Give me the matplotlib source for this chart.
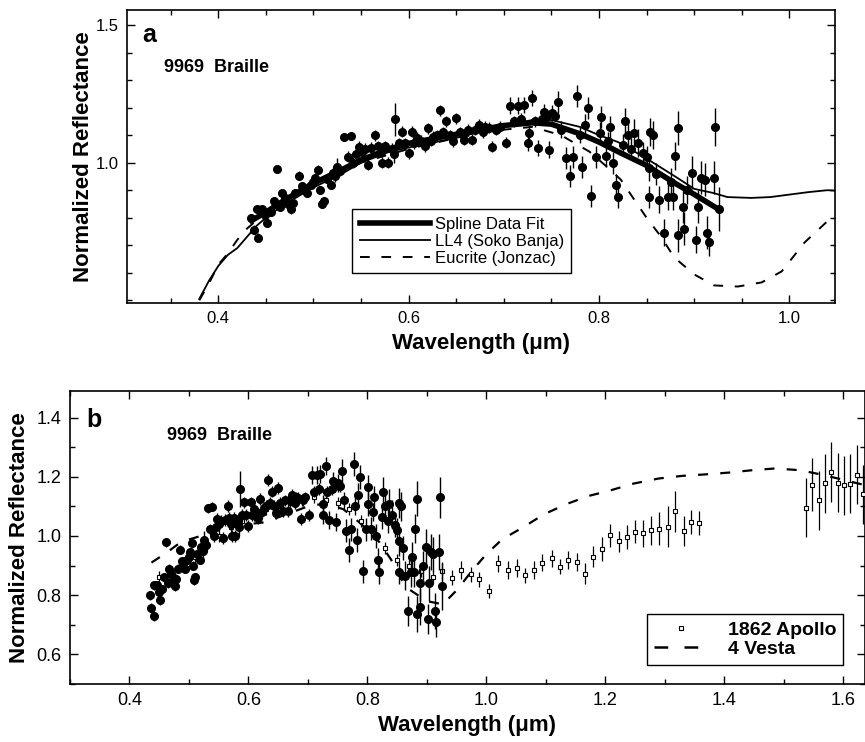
import matplotlib
matplotlib.use("Agg")
import matplotlib.pyplot as plt
from matplotlib.ticker import MultipleLocator
from matplotlib.lines import Line2D

plt.rcParams['font.family'] = ['Liberation Sans', 'DejaVu Sans']

# 9969 Braille reflectance data (wavelength um, reflectance, 1-sigma)
braille_wl = [0.434, 0.437, 0.441, 0.442, 0.446, 0.449, 0.451, 0.455, 0.458, 0.462,
              0.465, 0.467, 0.470, 0.473, 0.476, 0.478, 0.481, 0.485, 0.488, 0.490,
              0.493, 0.497, 0.500, 0.502, 0.505, 0.507, 0.509, 0.511, 0.514, 0.518,
              0.520, 0.523, 0.525, 0.528, 0.532, 0.536, 0.539, 0.542, 0.545, 0.548,
              0.551, 0.554, 0.557, 0.560, 0.565, 0.568, 0.571, 0.572, 0.575, 0.578,
              0.582, 0.585, 0.586, 0.590, 0.593, 0.596, 0.600, 0.604, 0.606, 0.609,
              0.613, 0.617, 0.620, 0.623, 0.626, 0.630, 0.633, 0.636, 0.639, 0.643,
              0.647, 0.650, 0.654, 0.658, 0.662, 0.667, 0.670, 0.674, 0.678, 0.680,
              0.684, 0.688, 0.692, 0.696, 0.702, 0.707, 0.711, 0.715, 0.718, 0.721,
              0.725, 0.726, 0.730, 0.733, 0.736, 0.740, 0.742, 0.745, 0.747, 0.751,
              0.754, 0.757, 0.760, 0.765, 0.770, 0.773, 0.777, 0.780, 0.782, 0.785,
              0.788, 0.792, 0.797, 0.801, 0.802, 0.807, 0.810, 0.812, 0.815, 0.818,
              0.820, 0.825, 0.827, 0.830, 0.834, 0.837, 0.841, 0.846, 0.850, 0.853,
              0.853, 0.854, 0.857, 0.860, 0.863, 0.868, 0.873, 0.876, 0.878, 0.880,
              0.883, 0.883, 0.888, 0.889, 0.893, 0.898, 0.902, 0.904, 0.907, 0.911,
              0.914, 0.916, 0.921, 0.922, 0.926]
braille_refl = [0.800, 0.757, 0.833, 0.728, 0.833, 0.810, 0.782, 0.820, 0.860, 0.978,
                0.840, 0.890, 0.870, 0.850, 0.830, 0.855, 0.890, 0.953, 0.915, 0.900,
                0.890, 0.920, 0.930, 0.945, 0.975, 0.900, 0.850, 0.860, 0.940, 0.920,
                0.963, 0.950, 0.986, 0.970, 1.094, 1.022, 1.098, 1.000, 1.030, 1.058,
                1.040, 1.050, 0.993, 1.055, 1.100, 1.060, 1.040, 1.000, 1.060, 1.000,
                1.050, 1.030, 1.158, 1.070, 1.113, 1.070, 1.035, 1.113, 1.070, 1.090,
                1.080, 1.060, 1.126, 1.080, 1.095, 1.100, 1.190, 1.110, 1.150, 1.100,
                1.077, 1.162, 1.110, 1.083, 1.120, 1.083, 1.120, 1.138, 1.110, 1.130,
                1.127, 1.058, 1.120, 1.130, 1.072, 1.207, 1.150, 1.207, 1.160, 1.210,
                1.072, 1.108, 1.235, 1.150, 1.054, 1.160, 1.185, 1.170, 1.047, 1.180,
                1.170, 1.220, 1.120, 1.018, 0.953, 1.022, 1.243, 1.100, 0.986, 1.138,
                1.200, 0.880, 1.022, 1.108, 1.166, 1.025, 1.080, 1.130, 1.000, 0.920,
                0.877, 1.065, 1.150, 1.100, 1.050, 1.108, 1.072, 1.036, 1.020, 0.982,
                0.877, 1.112, 1.100, 0.960, 0.866, 0.746, 0.877, 0.930, 0.877, 1.025,
                1.126, 0.736, 0.840, 0.760, 0.900, 0.963, 0.720, 0.840, 0.945, 0.938,
                0.746, 0.710, 0.946, 1.130, 0.830]
braille_err = [0.015] * 30 + [0.02, 0.02, 0.03, 0.02, 0.015, 0.02, 0.015, 0.02, 0.02, 0.02,
               0.02, 0.02, 0.02, 0.02, 0.02, 0.02, 0.02, 0.02, 0.02, 0.02,
               0.02, 0.03, 0.06, 0.02, 0.02, 0.02, 0.02, 0.02, 0.02, 0.02,
               0.02, 0.02, 0.02, 0.02, 0.02, 0.02, 0.02, 0.02, 0.02, 0.02,
               0.02, 0.02, 0.02, 0.02, 0.02, 0.02, 0.02, 0.02, 0.02, 0.02,
               0.02, 0.02, 0.02, 0.02, 0.02, 0.03, 0.02, 0.03, 0.02, 0.03,
               0.03, 0.03, 0.03, 0.02, 0.03, 0.02, 0.03, 0.02, 0.03, 0.03,
               0.02, 0.04, 0.03, 0.04, 0.04, 0.04, 0.04, 0.03, 0.04, 0.04,
               0.04, 0.04, 0.04, 0.04, 0.04, 0.04, 0.03, 0.04, 0.04, 0.04,
               0.04, 0.04, 0.05, 0.05, 0.04, 0.05, 0.05, 0.04, 0.04, 0.05,
               0.04, 0.05, 0.05, 0.04, 0.05, 0.05, 0.05, 0.05, 0.05, 0.05,
               0.06, 0.06, 0.06, 0.06, 0.05, 0.06, 0.05, 0.06, 0.06, 0.06,
               0.06, 0.05, 0.06, 0.07, 0.08]

# spline fit to Braille data
spline_wl = [0.435, 0.45, 0.47, 0.50, 0.53, 0.55, 0.58, 0.60, 0.63, 0.66,
             0.70, 0.73, 0.75, 0.78, 0.80, 0.82, 0.85, 0.88, 0.90, 0.926]
spline_refl = [0.79, 0.82, 0.865, 0.925, 0.975, 1.01, 1.05, 1.07, 1.09, 1.11,
               1.135, 1.145, 1.14, 1.105, 1.075, 1.04, 0.99, 0.925, 0.885, 0.83]

# LL4 ordinary chondrite (Soko Banja)
ll4_wl = [0.38, 0.39, 0.40, 0.41, 0.42, 0.43, 0.44, 0.45, 0.47, 0.50,
          0.53, 0.55, 0.58, 0.60, 0.65, 0.70, 0.73, 0.75, 0.78, 0.80,
          0.82, 0.85, 0.88, 0.90, 0.92, 0.935, 0.96, 0.98, 1.00, 1.02,
          1.04, 1.05]
ll4_refl = [0.505, 0.57, 0.625, 0.665, 0.69, 0.73, 0.77, 0.80, 0.85, 0.91,
            0.96, 1.00, 1.04, 1.055, 1.09, 1.135, 1.155, 1.155, 1.13, 1.10,
            1.075, 1.015, 0.95, 0.905, 0.89, 0.875, 0.872, 0.875, 0.884, 0.893,
            0.90, 0.898]

# Eucrite (Jonzac)
euc_wl = [0.38, 0.39, 0.40, 0.41, 0.42, 0.43, 0.45, 0.47, 0.50, 0.55,
          0.60, 0.65, 0.70, 0.73, 0.76, 0.79, 0.81, 0.823, 0.837, 0.85,
          0.865, 0.879, 0.90, 0.921, 0.946, 0.971, 0.992, 1.016, 1.044, 1.05]
euc_refl = [0.50, 0.56, 0.63, 0.67, 0.72, 0.76, 0.82, 0.86, 0.92, 1.00,
            1.05, 1.09, 1.12, 1.13, 1.10, 1.04, 0.98, 0.938, 0.866, 0.80,
            0.732, 0.656, 0.594, 0.554, 0.55, 0.565, 0.605, 0.71, 0.80, 0.81]

# 1862 Apollo
apollo_wl = [0.45, 0.47, 0.49, 0.51, 0.53, 0.55, 0.57, 0.59, 0.61, 0.63,
             0.65, 0.67, 0.69, 0.71, 0.73, 0.75, 0.77, 0.79, 0.81, 0.83,
             0.85, 0.87, 0.89, 0.91, 0.925, 0.942, 0.957, 0.974, 0.988, 1.005,
             1.02, 1.036, 1.051, 1.065, 1.08, 1.094, 1.11, 1.124, 1.138, 1.152,
             1.166, 1.18, 1.195, 1.209, 1.223, 1.237, 1.251, 1.264, 1.277, 1.291,
             1.305, 1.318, 1.332, 1.345, 1.357, 1.538, 1.548, 1.559, 1.57, 1.58,
             1.591, 1.601, 1.612, 1.623, 1.634]
apollo_refl = [0.86, 0.88, 0.90, 0.93, 0.97, 1.00, 1.03, 1.05, 1.07, 1.09,
               1.10, 1.11, 1.12, 1.13, 1.12, 1.11, 1.09, 1.05, 1.01, 0.96,
               0.92, 0.90, 0.88, 0.86, 0.881, 0.859, 0.885, 0.87, 0.853, 0.814,
               0.907, 0.885, 0.893, 0.867, 0.885, 0.91, 0.924, 0.896, 0.918, 0.913,
               0.873, 0.93, 0.955, 1.002, 0.982, 0.996, 1.015, 1.009, 1.019, 1.025,
               1.031, 1.083, 1.017, 1.048, 1.043, 1.096, 1.173, 1.12, 1.178, 1.216,
               1.18, 1.171, 1.177, 1.207, 1.141]
apollo_err = [0.02] * 24 + [0.03, 0.025, 0.03, 0.025, 0.025, 0.025,
              0.03, 0.03, 0.03, 0.025, 0.03, 0.03, 0.03, 0.025, 0.03, 0.03,
              0.035, 0.035, 0.04, 0.04, 0.035, 0.04, 0.04, 0.045, 0.05, 0.055,
              0.07, 0.07, 0.05, 0.04, 0.04, 0.1, 0.09, 0.1, 0.1, 0.1,
              0.1, 0.1, 0.1, 0.1, 0.1]

# 4 Vesta
vesta_wl = [0.437, 0.46, 0.487, 0.52, 0.55, 0.60, 0.627, 0.66, 0.70, 0.73,
            0.76, 0.79, 0.82, 0.84, 0.857, 0.87, 0.90, 0.927, 0.952, 0.975,
            1.0, 1.027, 1.061, 1.097, 1.134, 1.172, 1.209, 1.248, 1.29, 1.33,
            1.369, 1.408, 1.447, 1.486, 1.528, 1.562, 1.60, 1.64]
vesta_refl = [0.91, 0.94, 0.98, 1.00, 1.02, 1.04, 1.046, 1.07, 1.10, 1.11,
              1.09, 1.04, 0.98, 0.92, 0.854, 0.82, 0.78, 0.769, 0.82, 0.88,
              0.938, 0.989, 1.028, 1.073, 1.107, 1.135, 1.154, 1.177, 1.194, 1.203,
              1.208, 1.214, 1.222, 1.228, 1.222, 1.208, 1.19, 1.17]

fig = plt.figure(figsize=(8.65, 7.42), dpi=100)
ax_a = fig.add_axes([0.1468, 0.5916, 0.8185, 0.395])
ax_b = fig.add_axes([0.0809, 0.0782, 0.9191, 0.395])


def style_axes(ax, fs):
    ax.tick_params(which='both', direction='in', top=True, right=True, width=1,
                   labelsize=fs, pad=6)
    ax.tick_params(which='major', length=6)
    ax.tick_params(which='minor', length=3.5)
    for s in ax.spines.values():
        s.set_linewidth(1.2)


# ---- panel a ----
ax_a.errorbar(braille_wl, braille_refl, yerr=braille_err, fmt='o', ms=5.5,
              color='black', elinewidth=1, capsize=0, zorder=3)
ax_a.plot(spline_wl, spline_refl, color='black', lw=4, zorder=4,
          label='Spline Data Fit')
ax_a.plot(ll4_wl, ll4_refl, color='black', lw=1.3, zorder=4,
          label='LL4 (Soko Banja)')
ax_a.plot(euc_wl, euc_refl, color='black', lw=1.4, dashes=(5, 6), zorder=2,
          label='Eucrite (Jonzac)')

ax_a.set_xlim(0.304, 1.048)
ax_a.set_ylim(0.49, 1.555)
ax_a.xaxis.set_major_locator(MultipleLocator(0.2))
ax_a.xaxis.set_minor_locator(MultipleLocator(0.05))
ax_a.set_yticks([1.0, 1.5])
ax_a.yaxis.set_minor_locator(MultipleLocator(0.1))
style_axes(ax_a, 12)
ax_a.set_xlabel('Wavelength (μm)', fontsize=16, fontweight='bold', labelpad=5)
ax_a.set_ylabel('Normalized Reflectance', fontsize=16, fontweight='bold')
ax_a.yaxis.set_label_coords(-0.047, 0.5)
ax_a.text(0.022, 0.89, 'a', transform=ax_a.transAxes, fontsize=18,
          fontweight='bold')
ax_a.text(0.052, 0.788, '9969  Braille', transform=ax_a.transAxes, fontsize=13,
          fontweight='bold')
leg_a = ax_a.legend(loc='lower left', bbox_to_anchor=(0.318, 0.102),
                    borderaxespad=0, fontsize=12, handlelength=4.2,
                    handletextpad=0.3, labelspacing=0.12, borderpad=0.45,
                    fancybox=False, framealpha=1, edgecolor='black')
leg_a.get_frame().set_linewidth(1)

# ---- panel b ----
ax_b.plot(vesta_wl, vesta_refl, color='black', lw=1.6, dashes=(4.5, 5.5),
          zorder=2)
ax_b.errorbar(apollo_wl, apollo_refl, yerr=apollo_err, fmt='s', ms=3,
              mfc='white', mec='black', mew=0.8, color='black',
              elinewidth=0.9, capsize=0, zorder=3)
ax_b.errorbar(braille_wl, braille_refl, yerr=braille_err, fmt='o', ms=5.5,
              color='black', elinewidth=1, capsize=0, zorder=4)

ax_b.set_xlim(0.30, 1.637)
ax_b.set_ylim(0.50, 1.49)
ax_b.xaxis.set_major_locator(MultipleLocator(0.2))
ax_b.xaxis.set_minor_locator(MultipleLocator(0.1))
ax_b.set_yticks([0.6, 0.8, 1.0, 1.2, 1.4])
ax_b.yaxis.set_minor_locator(MultipleLocator(0.1))
style_axes(ax_b, 13)
ax_b.set_xlabel('Wavelength (μm)', fontsize=16, fontweight='bold', labelpad=4)
ax_b.set_ylabel('Normalized Reflectance', fontsize=16, fontweight='bold')
ax_b.yaxis.set_label_coords(-0.05, 0.5)
ax_b.text(0.021, 0.877, 'b', transform=ax_b.transAxes, fontsize=18,
          fontweight='bold')
ax_b.text(0.122, 0.833, '9969  Braille', transform=ax_b.transAxes, fontsize=13,
          fontweight='bold')

h_apollo = Line2D([], [], ls='none', marker='s', ms=3, mfc='white',
                  mec='black', mew=0.8)
h_vesta = Line2D([], [], color='black', lw=1.8, dashes=(5.5, 6.5))
leg_b = ax_b.legend([h_apollo, h_vesta], ['1862 Apollo', '4 Vesta'],
                    loc='lower left', bbox_to_anchor=(0.726, 0.065),
                    borderaxespad=0, prop={'size': 14, 'weight': 'bold'},
                    handlelength=2.8, handletextpad=1.0, labelspacing=0.1,
                    borderpad=0.35, fancybox=False, framealpha=1,
                    edgecolor='black')
leg_b.get_frame().set_linewidth(1)

fig.savefig('out.png', dpi=100)
